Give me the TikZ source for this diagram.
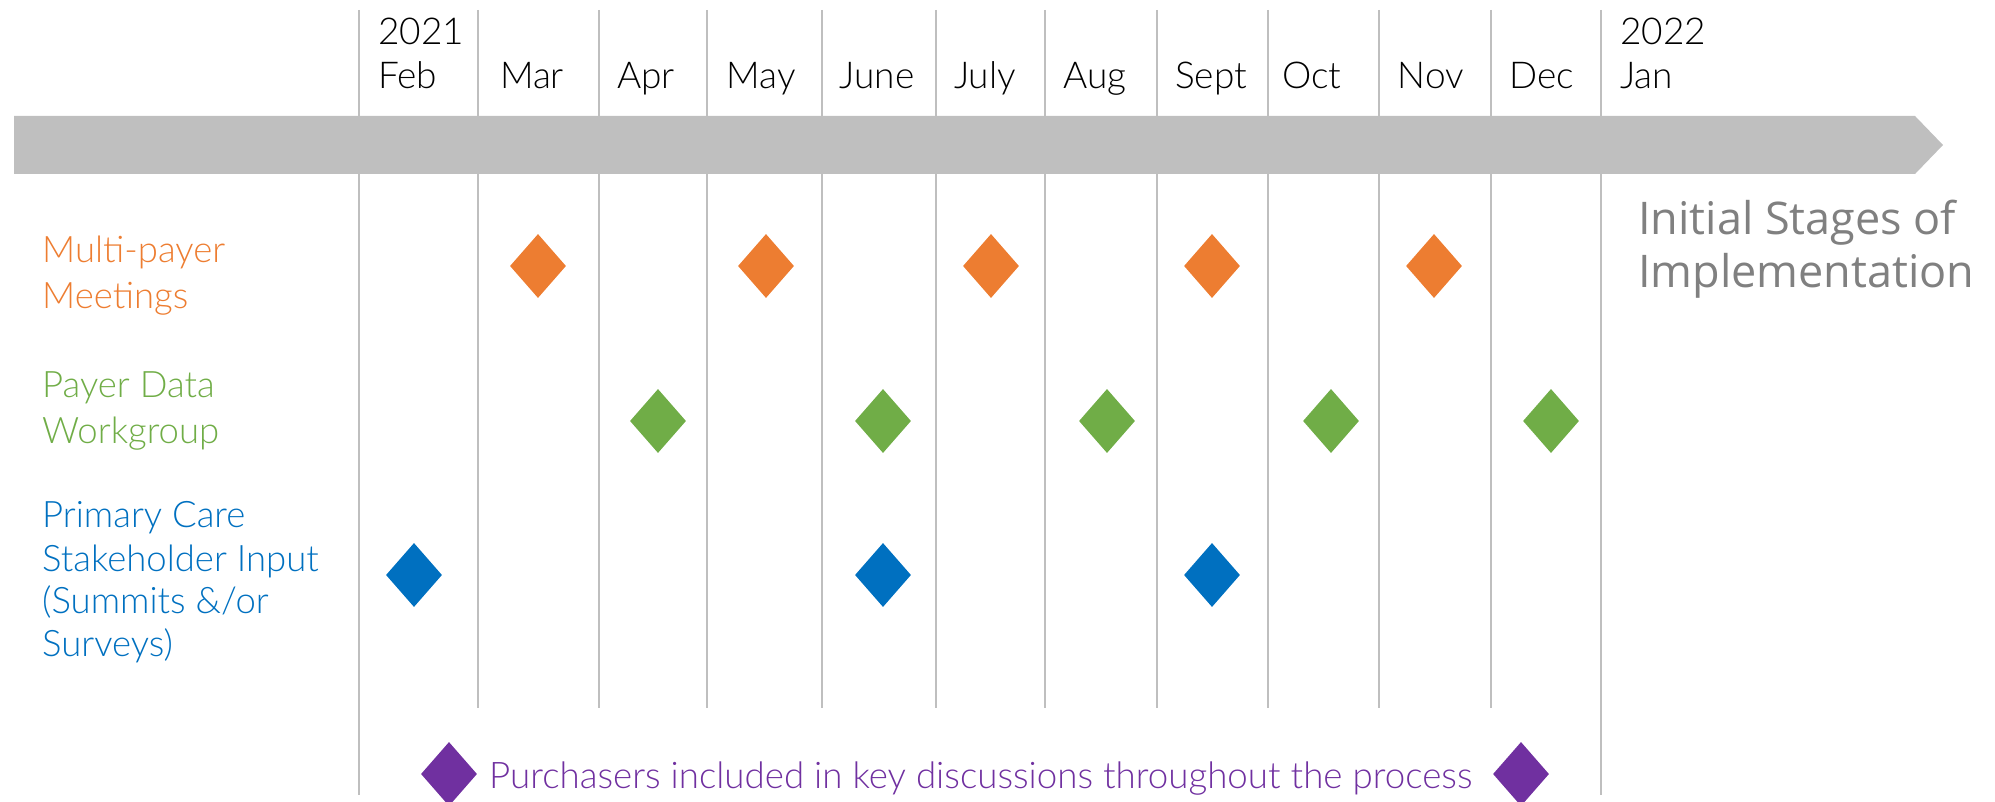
\documentclass[tikz,border=0pt]{standalone}
\usepackage{fontspec}
\setmainfont{Lato}[UprightFont={* Light}]
\newfontfamily\grayfont{Open Sans}
\usetikzlibrary{shapes.geometric}
\definecolor{orng}{HTML}{ED7D31}
\definecolor{grn}{HTML}{70AD47}
\definecolor{blu}{HTML}{0070C0}
\definecolor{purp}{HTML}{7030A0}
\definecolor{bargray}{HTML}{BFBFBF}
\definecolor{linegray}{HTML}{BFBFBF}
\definecolor{txtgray}{HTML}{808080}
\begin{document}
\begin{tikzpicture}[x=1pt,y=-1pt,
  gridline/.style={draw=linegray, line width=2pt},
  dia/.style={shape=diamond, fill=#1, draw=none, inner sep=0pt, minimum width=56pt, minimum height=64pt},
  month/.style={inner sep=0pt, anchor=base, font=\fontsize{37}{37}\selectfont},
  monthl/.style={inner sep=0pt, anchor=base west, font=\fontsize{37}{37}\selectfont},
  rowlabel/.style={inner sep=0pt, anchor=base west, text=#1, font=\fontsize{36.5}{36.5}\selectfont},
  graylabel/.style={inner sep=0pt, anchor=base west, text=txtgray, font=\grayfont\fontsize{45}{45}\selectfont},
  purptext/.style={inner sep=0pt, anchor=base west, text=purp, font=\fontsize{36.7}{36.7}\selectfont}
]
\useasboundingbox (0,0) rectangle (1995,802);
% grid lines
\foreach \x in {478,599,707,822,936,1045,1157,1268,1379,1491}
  \draw[gridline] (\x,10) -- (\x,708);
\foreach \x in {359,1601}
  \draw[gridline] (\x,10) -- (\x,795);
% timeline arrow
\fill[bargray] (14,116) -- (1915,116) -- (1943,145) -- (1915,174) -- (14,174) -- cycle;
% months
\node[monthl] (y2021) at (378,45) {2021};
\node[monthl] (feb) at (378,89) {Feb};
\node[month] (mar) at (532,89) {Mar};
\node[month] (apr) at (646,89) {Apr};
\node[month] (may) at (761,89) {May};
\node[month] (jun) at (877,89) {June};
\node[month] (jul) at (985,89) {July};
\node[month] (aug) at (1095,89) {Aug};
\node[month] (sep) at (1211,89) {Sept};
\node[month] (oct) at (1312,89) {Oct};
\node[month] (nov) at (1431,89) {Nov};
\node[month] (dec) at (1542,89) {Dec};
\node[monthl] (y2022) at (1620,45) {2022};
\node[monthl] (jan) at (1620,89) {Jan};
% row labels
\node[rowlabel=orng] (mp1) at (42,263) {Multi-payer};
\node[rowlabel=orng] (mp2) at (42,309) {Meetings};
\node[rowlabel=grn] (pd1) at (42,397) {Payer Data};
\node[rowlabel=grn] (pd2) at (42,443) {Workgroup};
\node[rowlabel=blu] (pc1) at (42,527) {Primary Care};
\node[rowlabel=blu] (pc2) at (42,571) {Stakeholder Input};
\node[rowlabel=blu] (pc3) at (42,613) {(Summits \&/or};
\node[rowlabel=blu] (pc4) at (42,656) {Surveys)};
% gray label
\node[graylabel] (is1) at (1638,235) {Initial Stages of};
\node[graylabel] (is2) at (1638,288) {Implementation};
% diamonds
\node[dia=orng] (o1) at (538,266) {};
\node[dia=orng] (o2) at (766,266) {};
\node[dia=orng] (o3) at (991,266) {};
\node[dia=orng] (o4) at (1212,266) {};
\node[dia=orng] (o5) at (1434,266) {};
\node[dia=grn] (g1) at (658,421) {};
\node[dia=grn] (g2) at (883,421) {};
\node[dia=grn] (g3) at (1107,421) {};
\node[dia=grn] (g4) at (1331,421) {};
\node[dia=grn] (g5) at (1551,421) {};
\node[dia=blu] (b1) at (414,575) {};
\node[dia=blu] (b2) at (883,575) {};
\node[dia=blu] (b3) at (1212,575) {};
\node[dia=purp] (p1) at (449,774) {};
\node[dia=purp] (p2) at (1521,774) {};
\node[purptext] (ptxt) at (489,788) {Purchasers included in key discussions throughout the process};
\end{tikzpicture}
\end{document}
